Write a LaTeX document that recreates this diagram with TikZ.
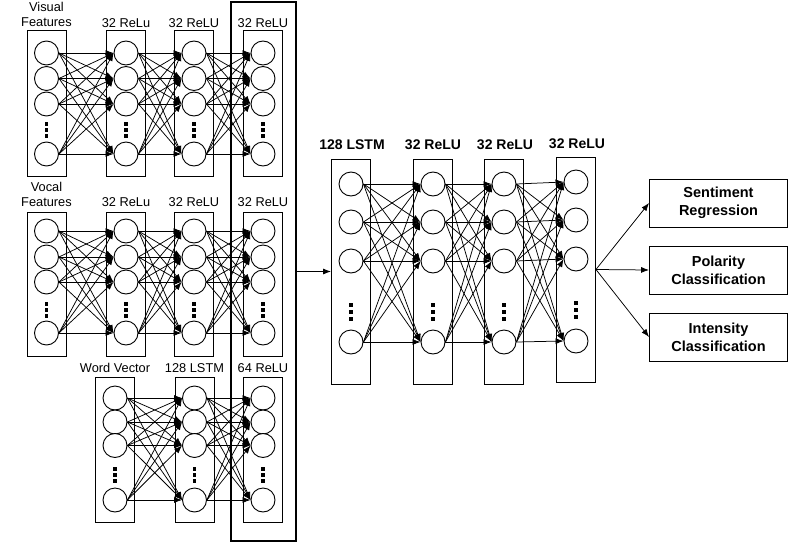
\documentclass[tikz,border=0pt]{standalone}
\usepackage{fontspec}
\setmainfont{Liberation Sans}
\usetikzlibrary{arrows.meta}
\tikzset{
  neuron/.style={draw, circle, minimum size=24, inner sep=0pt, line width=0.9pt, fill=white},
  layerbox/.style={draw, line width=0.9pt, inner sep=0pt, minimum width=39},
  conn/.style={-{Latex[length=8pt,width=6pt]}, line width=0.75pt},
  lab/.style={font=\fontsize{12.8}{15}\selectfont, align=center, inner sep=0pt},
  blab/.style={font=\bfseries\fontsize{14}{17}\selectfont, inner sep=0pt},
  outbox/.style={draw, line width=0.9pt, minimum width=138, minimum height=48, align=center, inner sep=0pt, font=\bfseries\fontsize{14.5}{18}\selectfont},
  framebox/.style={draw, line width=2pt, inner sep=0pt},
}
\newcommand{\dsz}{3.5}
\newcommand{\dgap}{6}
% #1 name, #2 x, #3-#6 circle ys, #7 box top, #8 box bottom, #9 dots y
\newcommand{\nnlayer}[9]{%
  \node[layerbox, minimum height={#8-#7}] (#1box) at (#2,{(#7+#8)/2}) {};
  \node[neuron] (#1a) at (#2,#3) {};
  \node[neuron] (#1b) at (#2,#4) {};
  \node[neuron] (#1c) at (#2,#5) {};
  \node[neuron] (#1d) at (#2,#6) {};
  \foreach \k in {-1,0,1}{
    \fill ({#2-\dsz/2},{#9+\k*\dgap-\dsz/2}) rectangle ++(\dsz,\dsz);
  }
}
\newcommand{\fullconn}[2]{%
  \foreach \i in {a,b,c,d}{
    \foreach \j in {a,b,c,d}{
      \draw[conn] (#1\i.east) -- (#2\j.west);
    }
  }
}
\begin{document}
\begin{tikzpicture}[x=1pt,y=-1pt]
\useasboundingbox (0,0) rectangle (789,554);
\fill[white] (0,0) rectangle (789,554);

% ---------- top group (visual) ----------
\nnlayer{Ta}{46.5}{53}{78.5}{104}{154}{30}{176}{130}
\nnlayer{Tb}{126}{53}{78.5}{104}{154}{30}{176}{130}
\nnlayer{Tc}{194}{53}{78.5}{104}{154}{30}{176}{130}
\nnlayer{Td}{263}{53}{78.5}{104}{154}{30}{176}{130}
\node[lab] (tl1) at (46.5,14.5) {Visual\\Features};
\node[lab] (tl2) at (126,23) {32 ReLu};
\node[lab] (tl3) at (194,23) {32 ReLU};
\node[lab] (tl4) at (263,23) {32 ReLU};
\fullconn{Ta}{Tb}
\fullconn{Tb}{Tc}
\fullconn{Tc}{Td}

% ---------- vocal group ----------
\nnlayer{Va}{46.5}{231}{257}{282}{333}{212}{356}{310}
\nnlayer{Vb}{126}{231}{257}{282}{333}{212}{356}{310}
\nnlayer{Vc}{194}{231}{257}{282}{333}{212}{356}{310}
\nnlayer{Vd}{263}{231}{257}{282}{333}{212}{356}{310}
\node[lab] (vl1) at (46.5,194) {Vocal\\Features};
\node[lab] (vl2) at (126,202) {32 ReLu};
\node[lab] (vl3) at (194,202) {32 ReLU};
\node[lab] (vl4) at (263,202) {32 ReLU};
\fullconn{Va}{Vb}
\fullconn{Vb}{Vc}
\fullconn{Vc}{Vd}

% ---------- word group ----------
\nnlayer{Wa}{115}{398}{422}{445.5}{500}{377}{522}{475}
\nnlayer{Wb}{194.5}{398}{422}{445.5}{500}{377}{522}{475}
\nnlayer{Wc}{263}{398}{422}{445.5}{500}{377}{522}{475}
\node[lab] (wl1) at (115,368) {Word Vector};
\node[lab] (wl2) at (194.5,368) {128 LSTM};
\node[lab] (wl3) at (263,368) {64 ReLU};
\fullconn{Wa}{Wb}
\fullconn{Wb}{Wc}

% ---------- frame ----------
\node[framebox, minimum width=65, minimum height=539] (frame) at (263.5,271.5) {};

% ---------- middle network ----------
\renewcommand{\dsz}{4}
\renewcommand{\dgap}{7}
\nnlayer{Ma}{351}{184}{222}{261}{342}{159}{384}{312}
\nnlayer{Mb}{433}{184}{222}{261}{342}{159}{384}{312}
\nnlayer{Mc}{504}{184}{222}{261}{342}{159}{384}{312}
\nnlayer{Md}{576}{182}{220}{259}{341}{157}{382}{310}
\node[blab] (ml1) at (352,145) {128 LSTM};
\node[blab] (ml2) at (433,145) {32 ReLU};
\node[blab] (ml3) at (505,145) {32 ReLU};
\node[blab] (ml4) at (577,144) {32 ReLU};
\fullconn{Ma}{Mb}
\fullconn{Mb}{Mc}
\fullconn{Mc}{Md}

\draw[conn] (frame.east) -- (Mabox.west);

% ---------- outputs ----------
\node[outbox] (o1) at (718.5,203) {Sentiment\\Regression};
\node[outbox] (o2) at (718.5,270) {Polarity\\Classification};
\node[outbox] (o3) at (718.5,337) {Intensity\\Classification};
\draw[conn] (Mdbox.east) -- (o1.west);
\draw[conn] (Mdbox.east) -- (o2.west);
\draw[conn] (Mdbox.east) -- (o3.west);
\end{tikzpicture}
\end{document}
